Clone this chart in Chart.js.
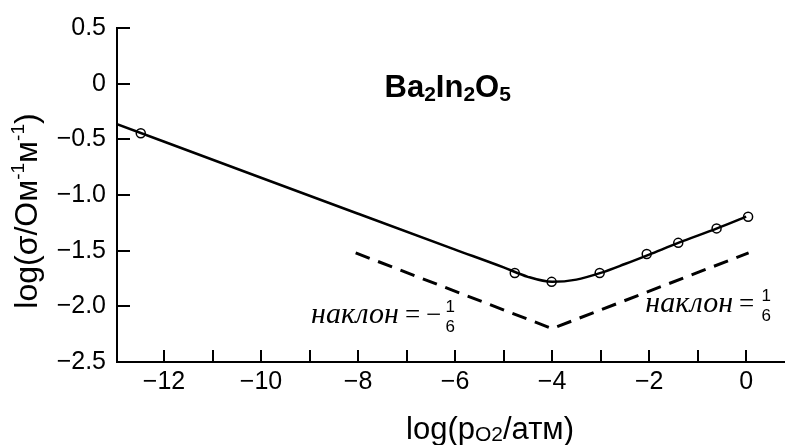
<!DOCTYPE html>
<html>
<head>
<meta charset="utf-8">
<script src="https://cdn.jsdelivr.net/npm/chart.js@4"></script>
<style>
  html, body { margin: 0; padding: 0; background: #fff; }
  #chart { display: block; }
</style>
</head>
<body>
<canvas id="chart" width="790" height="445"></canvas>
<script>
// fitted conductivity curve (solid line)
var fitX = [-12.97, -10, -8, -6, -5, -4.5, -4, -3.5, -3, -2.5, -2, -1.4, -0.6, 0];
var fitY = [-0.363, -0.845, -1.168, -1.49, -1.65, -1.735, -1.78, -1.76, -1.70, -1.62, -1.535, -1.43, -1.30, -1.195];

// measured points (open circles)
var measX = [-12.48, -4.77, -4.01, -3.02, -2.05, -1.40, -0.61, 0.04];
var measY = [-0.446, -1.70, -1.78, -1.70, -1.53, -1.43, -1.30, -1.195];

// slope guide (dashed V)
var guideX = [-8.05, -4.0, 0.05];
var guideY = [-1.52, -2.20, -1.52];

// axes
var xTickValues = [-12, -11, -10, -9, -8, -7, -6, -5, -4, -3, -2, -1, 0];
var yTickValues = [0.5, 0, -0.5, -1.0, -1.5, -2.0, -2.5];
var yTickLabels = ["0.5", "0", "\u22120.5", "\u22121.0", "\u22121.5", "\u22122.0", "\u22122.5"];

function points(xs, ys) {
    return xs.map(function (v, i) { return {x: v, y: ys[i]}; });
}

// width of a list of text pieces
function runsWidth(ctx, runs) {
    var w = 0;
    runs.forEach(function (r) {
        ctx.font = r.font;
        w += ctx.measureText(r.t).width + (r.gap || 0);
    });
    return w;
}
// draws text pieces one after the other, returns the end x
function drawRuns(ctx, x, y, runs) {
    runs.forEach(function (r) {
        ctx.font = r.font;
        ctx.fillText(r.t, x, y + (r.dy || 0));
        x += ctx.measureText(r.t).width + (r.gap || 0);
    });
    return x;
}

function drawFrac(ctx, cx, baseline, num, den) {
    ctx.font = '17px "Liberation Sans"';
    ctx.textAlign = "center";
    ctx.fillText(num, cx, baseline - 11);
    ctx.fillText(den, cx, baseline + 9);
    ctx.textAlign = "left";
}

var annotations = {
    id: "annotations",
    afterDraw: function (chart) {
        var ctx = chart.ctx;
        var x = chart.scales.x, y = chart.scales.y, area = chart.chartArea;
        ctx.save();
        ctx.strokeStyle = "#000";
        ctx.fillStyle = "#000";
        ctx.lineWidth = 2;

        // inward tick marks
        xTickValues.forEach(function (v) {
            var px = Math.round(x.getPixelForValue(v));
            ctx.beginPath();
            ctx.moveTo(px, area.bottom);
            ctx.lineTo(px, area.bottom - 12);
            ctx.stroke();
        });
        yTickValues.forEach(function (v) {
            var py = Math.round(y.getPixelForValue(v));
            ctx.beginPath();
            ctx.moveTo(area.left, py);
            ctx.lineTo(area.left + 13, py);
            ctx.stroke();
        });

        ctx.textBaseline = "alphabetic";
        ctx.textAlign = "left";

        // compound name
        var bold = 'bold 31px "Liberation Sans"', boldSub = 'bold 21px "Liberation Sans"';
        drawRuns(ctx, x.getPixelForValue(-7.455), y.getPixelForValue(-0.117), [
            {t: "Ba", font: bold}, {t: "2", font: boldSub, dy: 4},
            {t: "In", font: bold}, {t: "2", font: boldSub, dy: 4},
            {t: "O", font: bold}, {t: "5", font: boldSub, dy: 4}
        ]);

        // slope labels
        var it = 'italic 30px "Liberation Serif"', eq = '27px "Liberation Serif"';
        var lx = x.getPixelForValue(-8.97), ly = y.getPixelForValue(-2.153);
        var end = drawRuns(ctx, lx, ly, [
            {t: "наклон", font: it, gap: 6},
            {t: "=", font: eq, gap: 6},
            {t: "\u2212", font: eq}
        ]);
        drawFrac(ctx, end + 9, ly, "1", "6");

        var rx = x.getPixelForValue(-2.08), ry = y.getPixelForValue(-2.049);
        end = drawRuns(ctx, rx, ry, [
            {t: "наклон", font: it, gap: 6},
            {t: "=", font: eq}
        ]);
        drawFrac(ctx, end + 12, ry, "1", "6");

        // x axis title
        var big = '31px "Liberation Sans"', small = '21px "Liberation Sans"';
        var xRuns = [
            {t: "log(p", font: big}, {t: "O2", font: small, dy: 2},
            {t: "/атм)", font: big}
        ];
        drawRuns(ctx, 490 - runsWidth(ctx, xRuns) / 2, 439, xRuns);

        // y axis title
        var yBig = '32px "Liberation Sans"', sup = '19px "Liberation Sans"';
        var yRuns = [
            {t: "log(σ/Ом", font: yBig}, {t: "-1", font: sup, dy: -13},
            {t: "м", font: yBig}, {t: "-1", font: sup, dy: -13},
            {t: ")", font: yBig}
        ];
        ctx.translate(37, 211);
        ctx.rotate(-Math.PI / 2);
        drawRuns(ctx, -runsWidth(ctx, yRuns) / 2, 0, yRuns);
        ctx.restore();
    }
};

new Chart(document.getElementById("chart"), {
    type: "scatter",
    data: {
        datasets: [
            {
                data: points(fitX, fitY),
                showLine: true,
                borderColor: "#000",
                borderWidth: 2.5,
                pointRadius: 0,
                cubicInterpolationMode: "monotone",
                order: 2
            },
            {
                data: points(guideX, guideY),
                showLine: true,
                borderColor: "#000",
                borderWidth: 3,
                borderDash: [15, 9],
                pointRadius: 0,
                order: 3
            },
            {
                data: points(measX, measY),
                showLine: false,
                borderColor: "#000",
                backgroundColor: "rgba(0,0,0,0)",
                pointRadius: 4.5,
                pointBorderWidth: 1.5,
                order: 1
            }
        ]
    },
    options: {
        responsive: false,
        animation: false,
        devicePixelRatio: 1,
        layout: {padding: {top: 28, right: 0, left: 0, bottom: 0}},
        plugins: {legend: {display: false}, tooltip: {enabled: false}},
        scales: {
            x: {
                type: "linear",
                min: -12.97,
                max: 0.78,
                grid: {display: false, drawTicks: false},
                border: {display: true, color: "#000", width: 2},
                afterBuildTicks: function (scale) {
                    scale.ticks = xTickValues.map(function (v) { return {value: v}; });
                },
                afterFit: function (scale) { scale.height = 83; },
                ticks: {
                    autoSkip: false,
                    maxRotation: 0,
                    padding: 5,
                    color: "#000",
                    font: {family: "Liberation Sans", size: 25},
                    callback: function (v) {
                        if (v % 2 !== 0) return "";
                        return v < 0 ? "\u2212" + Math.abs(v) : String(v);
                    }
                }
            },
            y: {
                type: "linear",
                min: -2.5,
                max: 0.5,
                grid: {display: false, drawTicks: false},
                border: {display: true, color: "#000", width: 2},
                afterBuildTicks: function (scale) {
                    scale.ticks = yTickValues.map(function (v) { return {value: v}; });
                },
                afterFit: function (scale) { scale.width = 117; },
                ticks: {
                    padding: 11,
                    color: "#000",
                    font: {family: "Liberation Sans", size: 25},
                    callback: function (v) {
                        return yTickLabels[yTickValues.indexOf(v)];
                    }
                }
            }
        }
    },
    plugins: [annotations]
});
</script>
</body>
</html>
